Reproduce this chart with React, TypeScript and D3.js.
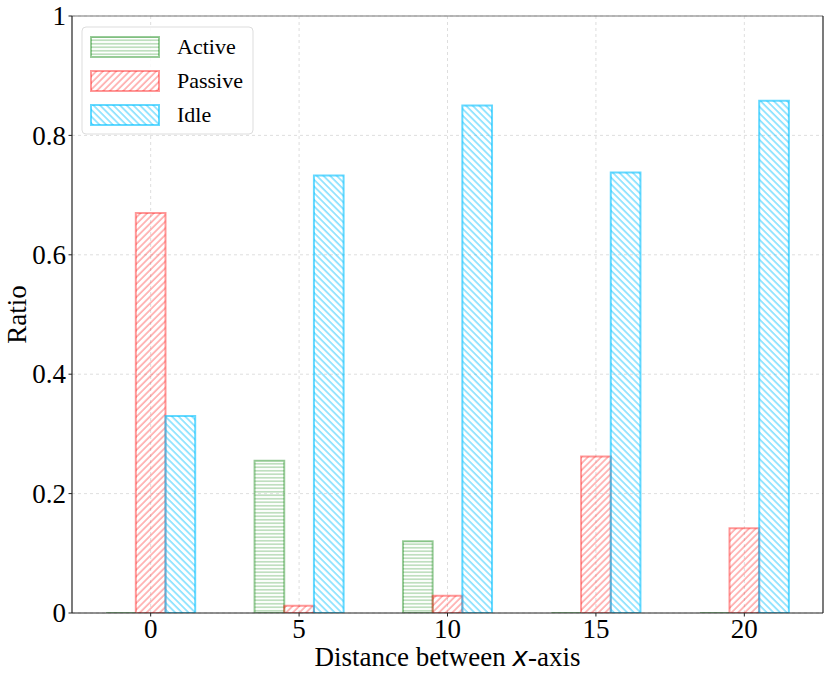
import * as React from "react";
import * as d3 from "d3";

const distances = [0, 5, 10, 15, 20];
const activeValues = [0, 0.255, 0.12, 0, 0];
const passiveValues = [0.67, 0.012, 0.029, 0.262, 0.142];
const idleValues = [0.33, 0.733, 0.85, 0.738, 0.858];
const yTicks = [0, 0.2, 0.4, 0.6, 0.8, 1];
const yTickLabels = ["0", "0.2", "0.4", "0.6", "0.8", "1"];

const series = [
  { name: "Active", values: activeValues, color: "green", alpha: 0.4, offset: -1, hatch: "hatch-h" },
  { name: "Passive", values: passiveValues, color: "red", alpha: 0.4, offset: 0, hatch: "hatch-f" },
  { name: "Idle", values: idleValues, color: "deepskyblue", alpha: 0.6, offset: 1, hatch: "hatch-b" },
];

const W = 830;
const H = 679;
const plot = { left: 72, right: 823, top: 16, bottom: 613 };
const serif = "'Liberation Serif', 'Times New Roman', serif";

export default function App() {
  const x = d3.scaleLinear().domain([-2.65, 22.65]).range([plot.left, plot.right]);
  const y = d3.scaleLinear().domain([0, 1]).range([plot.bottom, plot.top]);
  const barW = x(1) - x(0);

  const barPath = (cx: number, v: number) => {
    const x0 = x(cx) - barW / 2;
    const x1 = x(cx) + barW / 2;
    return `M${x0},${y(0)}H${x1}V${y(v)}H${x0}Z`;
  };

  return (
    <svg width={W} height={H} style={{ position: "absolute", left: 0, top: 0, background: "#fff" }}>
      <defs>
        <pattern id="hatch-h" patternUnits="userSpaceOnUse" width="8" height="3.5">
          <line x1="0" y1="1.75" x2="8" y2="1.75" stroke="green" strokeOpacity={0.4} strokeWidth={1.1} />
        </pattern>
        <pattern id="hatch-f" patternUnits="userSpaceOnUse" width="4.7" height="4.7" patternTransform="rotate(45)">
          <line x1="1" y1="-1" x2="1" y2="6" stroke="red" strokeOpacity={0.45} strokeWidth={1.2} />
        </pattern>
        <pattern id="hatch-b" patternUnits="userSpaceOnUse" width="4.7" height="4.7" patternTransform="rotate(-45)">
          <line x1="1" y1="-1" x2="1" y2="6" stroke="deepskyblue" strokeOpacity={0.65} strokeWidth={1.2} />
        </pattern>
        <clipPath id="plot-clip">
          <rect x={plot.left} y={plot.top} width={plot.right - plot.left} height={plot.bottom - plot.top} />
        </clipPath>
      </defs>

      {/* grid */}
      <g stroke="#d6d6d6" strokeWidth={0.8} strokeDasharray="3,3">
        {distances.map((d) => (
          <line key={"gx" + d} x1={x(d)} x2={x(d)} y1={plot.top} y2={plot.bottom} />
        ))}
        {yTicks.map((t) => (
          <line key={"gy" + t} x1={plot.left} x2={plot.right} y1={y(t)} y2={y(t)} />
        ))}
      </g>

      {/* bars */}
      <g clipPath="url(#plot-clip)">
        {series.map((s) =>
          s.values.map((v, i) => (
            <path
              key={s.name + i}
              d={barPath(distances[i] + s.offset, v)}
              fill={`url(#${s.hatch})`}
              stroke={s.color}
              strokeOpacity={s.alpha}
              strokeWidth={2}
            />
          ))
        )}
      </g>

      {/* spines */}
      <line x1={plot.left} x2={plot.right} y1={plot.top} y2={plot.top} stroke="#777" strokeWidth={1.2} />
      <line x1={plot.right} x2={plot.right} y1={plot.top} y2={plot.bottom} stroke="#222" strokeWidth={1.2} />
      <line x1={plot.left} x2={plot.left} y1={plot.top} y2={plot.bottom} stroke="#222" strokeWidth={1.2} />
      <line x1={plot.left} x2={plot.right} y1={plot.bottom} y2={plot.bottom} stroke="#222" strokeWidth={1.2} />

      {/* ticks */}
      <g fontFamily={serif} fontSize={27} fill="#000">
        {distances.map((d) => (
          <g key={"tx" + d}>
            <line x1={x(d)} x2={x(d)} y1={plot.bottom} y2={plot.bottom + 3.5} stroke="#222" strokeWidth={1} />
            <text x={x(d)} y={638} textAnchor="middle">{d}</text>
          </g>
        ))}
        {yTicks.map((t, i) => (
          <g key={"ty" + t}>
            <line x1={plot.left - 3.5} x2={plot.left} y1={y(t)} y2={y(t)} stroke="#222" strokeWidth={1} />
            <text x={plot.left - 6} y={y(t)} dy="0.34em" textAnchor="end">{yTickLabels[i]}</text>
          </g>
        ))}
      </g>

      {/* axis labels */}
      <text x={(plot.left + plot.right) / 2} y={666} textAnchor="middle" fontFamily={serif} fontSize={27}>
        Distance between{" "}
        <tspan fontFamily="'DejaVu Sans', sans-serif" fontStyle="italic" fontSize={26}>x</tspan>
        -axis
      </text>
      <text
        transform={`translate(26,${(plot.top + plot.bottom) / 2}) rotate(-90)`}
        textAnchor="middle"
        fontFamily={serif}
        fontSize={27}
      >
        Ratio
      </text>

      {/* legend */}
      <g>
        <rect x={82} y={27} width={171} height={107} rx={4} fill="#fff" fillOpacity={0.85} stroke="#ddd" strokeWidth={1} />
        {series.map((s, i) => {
          const cy = 47 + i * 34;
          return (
            <g key={"lg" + s.name}>
              <rect
                x={91}
                y={cy - 10}
                width={68}
                height={20}
                fill={`url(#${s.hatch})`}
                stroke={s.color}
                strokeOpacity={s.alpha}
                strokeWidth={2}
              />
              <text x={177} y={cy} dy="0.34em" fontFamily={serif} fontSize={22}>
                {s.name}
              </text>
            </g>
          );
        })}
      </g>
    </svg>
  );
}
